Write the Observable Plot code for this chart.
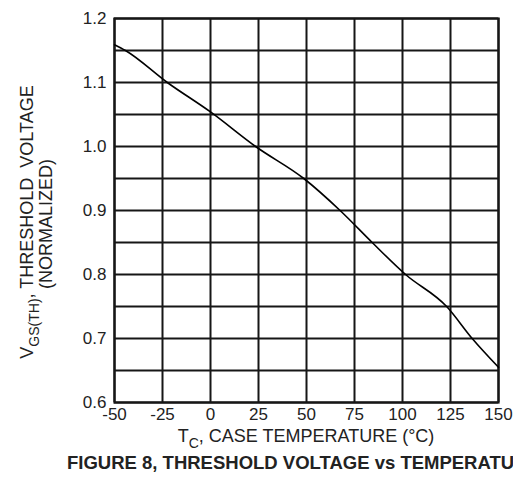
<!DOCTYPE html>
<html><head><meta charset="utf-8">
<script src="https://cdn.jsdelivr.net/npm/d3@7"></script>
<script src="https://cdn.jsdelivr.net/npm/@observablehq/plot@0.6"></script>
<style>
body{margin:0;background:#fff;overflow:hidden;}
svg{display:block;}
</style>
</head><body><div id="chart"></div>
<script>
// Case temperature (°C) and normalized threshold voltage
const temps = [-50, -44.3, -22.5, 0, 23.5, 48.6, 67.5, 84.2, 101.6, 123, 136.3, 150];
const vth   = [1.159, 1.15, 1.10, 1.054, 1.0, 0.95, 0.90, 0.85, 0.80, 0.75, 0.70, 0.655];
const xTicks = [-50, -25, 0, 25, 50, 75, 100, 125, 150];
const yTicks = [0.6, 0.7, 0.8, 0.9, 1.0, 1.1, 1.2];
const yGrid = [0.6, 0.65, 0.7, 0.75, 0.8, 0.85, 0.9, 0.95, 1.0, 1.05, 1.1, 1.15, 1.2];
const xTitle = ["T", "C", ", CASE TEMPERATURE (°C)"];
const yTitle1 = ["V", "GS(TH)", ", THRESHOLD  VOLTAGE"];
const yTitle2 = "(NORMALIZED)";
const caption = "FIGURE 8, THRESHOLD VOLTAGE vs TEMPERATURE";

const data = temps.map((t, i) => ({t, v: vth[i]}));
const FONT = '"Liberation Sans", Arial, Helvetica, sans-serif';
const INK = "#161616";

const chart = Plot.plot({
  width: 513, height: 478,
  marginLeft: 114, marginRight: 15, marginTop: 18, marginBottom: 76,
  style: {fontFamily: FONT, fontSize: "17px", color: "#222", background: "#fff", overflow: "hidden"},
  x: {domain: [-50, 150], ticks: xTicks, tickSize: 0, tickPadding: 5, label: null,
      tickFormat: d => (d < 0 ? "-" + Math.abs(d) : String(d))},
  y: {domain: [0.6, 1.2], ticks: yTicks, tickSize: 0, tickPadding: 8, tickFormat: d3.format(".1f"), label: null},
  marks: [
    Plot.ruleX(xTicks, {stroke: INK, strokeWidth: 2}),
    Plot.ruleY(yGrid, {stroke: INK, strokeWidth: 2}),
    Plot.frame({stroke: INK, strokeWidth: 2.2}),
    Plot.line(data, {x: "t", y: "v", stroke: "#000", strokeWidth: 1.6, curve: "monotone-x"})
  ]
});
document.getElementById("chart").appendChild(chart);

const svg = d3.select(chart);
const xs = chart.scale("x"), ys = chart.scale("y");
const x0 = xs.apply(-50), x1 = xs.apply(150);
const y0 = ys.apply(0.6), y1 = ys.apply(1.2);
const cx = (x0 + x1) / 2, cy = (y0 + y1) / 2;

// x axis title
const xt = svg.append("text")
  .attr("x", cx).attr("y", y0 + 40)
  .attr("text-anchor", "middle")
  .attr("font-family", FONT).attr("font-size", 18).attr("fill", "#222")
  .style("white-space", "pre");
xt.append("tspan").text(xTitle[0]);
xt.append("tspan").attr("font-size", 14).attr("dy", 5.5).text(xTitle[1]);
xt.append("tspan").attr("dy", -5.5).text(xTitle[2]);

// y axis title (two lines)
const g1 = svg.append("g").attr("transform", `translate(${x0 - 81},${cy + 12}) rotate(-90)`);
const yt = g1.append("text").attr("text-anchor", "middle")
  .attr("font-family", FONT).attr("font-size", 18).attr("fill", "#222")
  .style("white-space", "pre");
yt.append("tspan").text(yTitle1[0]);
yt.append("tspan").attr("font-size", 14).attr("dy", 6).text(yTitle1[1]);
yt.append("tspan").attr("dy", -6).text(yTitle1[2]);

svg.append("g").attr("transform", `translate(${x0 - 62},${cy + 14}) rotate(-90)`)
  .append("text").attr("text-anchor", "middle")
  .attr("font-family", FONT).attr("font-size", 18).attr("fill", "#222")
  .text(yTitle2);

// caption (runs past the right edge, as in the reference)
svg.append("text")
  .attr("x", 67).attr("y", y0 + 67)
  .attr("text-anchor", "start")
  .attr("font-family", FONT).attr("font-size", 18.5).attr("font-weight", "bold").attr("fill", "#222")
  .text(caption);
</script>
</body></html>
